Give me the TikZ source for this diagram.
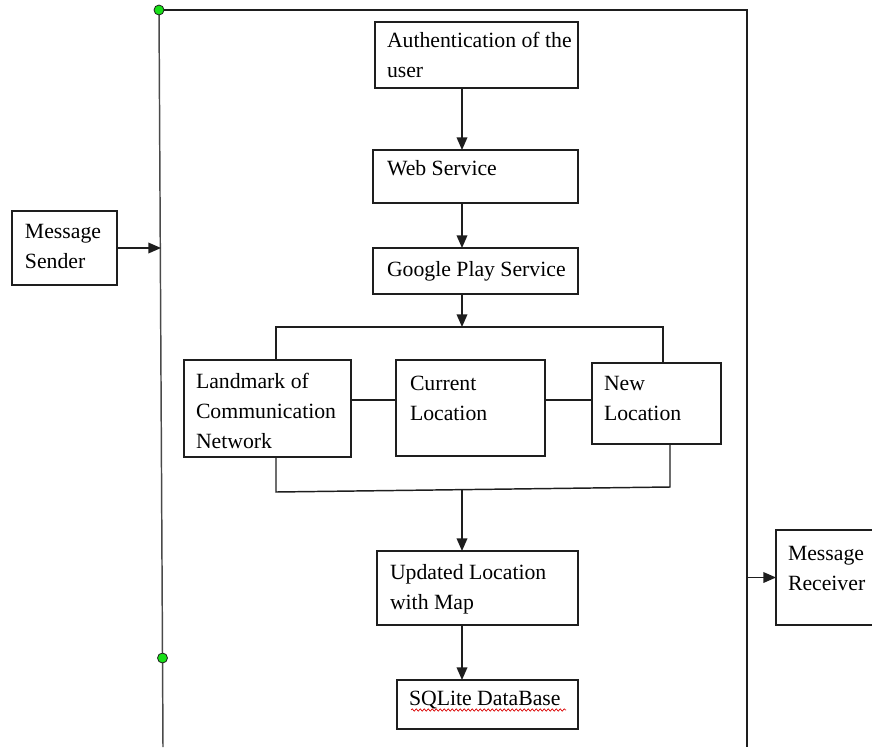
\documentclass[tikz,border=0pt]{standalone}
\usepackage{fontspec}
\setmainfont{Liberation Serif}
\usetikzlibrary{arrows.meta,decorations.pathmorphing}
\definecolor{ink}{HTML}{1E1E1E}
\definecolor{rail}{HTML}{4A4A4A}
\definecolor{dotgreen}{HTML}{18E018}
\tikzset{
  box/.style={draw=ink, line width=1.1pt, rectangle, inner sep=0pt, outer sep=0pt},
  lbl/.style={inner sep=0pt, outer sep=0pt, align=left, text=black,
              font=\fontsize{16.3}{22.5}\selectfont},
  wire/.style={draw=ink, line width=1.1pt},
  arr/.style={wire, -{Triangle[length=9.5pt,width=8pt]}},
  railline/.style={draw=rail, line width=1.1pt},
  dot/.style={circle, draw=ink, fill=dotgreen, line width=0.6pt,
              minimum size=7.5pt, inner sep=0pt},
  squiggle/.style={draw=red!85!black, line width=0.5pt,
                   decorate, decoration={snake, amplitude=0.9pt, segment length=3pt}}
}
% box from its top-left and bottom-right corners, in pixel units
\newcommand\flowbox[5]{%
  \node[box, minimum width={(#4-#2)*0.75pt}, minimum height={(#5-#3)*0.75pt}]
    (#1) at ({(#2+#4)/2},{(#3+#5)/2}) {};}
\begin{document}
\begin{tikzpicture}[x=0.75pt,y=-0.75pt]
\useasboundingbox (0,0) rectangle (872,747);

% outer frame
\coordinate (frameTL) at (159,10);
\coordinate (frameBL) at (163,747);
\coordinate (frameTR) at (747,10);
\coordinate (frameBR) at (747,747);
\draw[railline] (frameTL) -- (frameBL);
\draw[wire] (frameTL) -- (frameTR) -- (frameBR);
\node[dot] (dotTop) at (frameTL) {};
\node[dot] (dotLow) at (162.5,658) {};

% boxes
\flowbox{send}{12}{211}{117}{285}
\flowbox{auth}{375}{22}{578}{88}
\flowbox{web}{373}{150}{578}{203}
\flowbox{gps}{373}{248}{578}{294}
\flowbox{land}{184}{360}{351}{457}
\flowbox{cur}{396}{360}{545}{456}
\flowbox{newloc}{592}{363}{721}{444}
\flowbox{upd}{377}{551}{578}{625}
\flowbox{db}{397}{680}{578}{729}
\flowbox{recv}{776}{530}{890}{625}

% labels (base anchor = baseline of the last line)
\node[lbl, anchor=base west] (sendT) at (25,268) {Message\\Sender};
\node[lbl, anchor=base west] (authT) at (387,77) {Authentication of the\\user};
\node[lbl, anchor=base west] (webT) at (387,175) {Web Service};
\node[lbl, anchor=base west] (gpsT) at (387,276) {Google Play Service};
\node[lbl, anchor=base west] (landT) at (196,448) {Landmark of\\Communication\\Network};
\node[lbl, anchor=base west] (curT) at (410,420) {Current\\Location};
\node[lbl, anchor=base west] (newT) at (604,420) {New\\Location};
\node[lbl, anchor=base west] (updT) at (390,609) {Updated Location\\with Map};
\node[lbl, anchor=base west] (dbT) at (409,705) {SQLite DataBase};
\node[lbl, anchor=base west] (recvT) at (788,590) {Message\\Receiver};
\draw[squiggle] (411,710) -- (566,710);

% main flow
\coordinate (spine) at (462,0);
\draw[arr] (auth.south -| spine) -- (web.north -| spine);
\draw[arr] (web.south -| spine) -- (gps.north -| spine);
\coordinate (split) at (462,327);
\coordinate (splitL) at (276,327);
\coordinate (splitR) at (663,327);
\draw[arr] (gps.south -| spine) -- (split);
\draw[wire] (land.north -| splitL) -- (splitL) -- (splitR) -- (newloc.north -| splitR);

% links between the three location boxes
\coordinate (midrow) at (0,400);
\draw[wire] (land.east |- midrow) -- (cur.west |- midrow);
\draw[wire] (cur.east |- midrow) -- (newloc.west |- midrow);

% merge below the location boxes
\coordinate (joinL) at (276,492);
\coordinate (joinR) at (670,487);
\coordinate (merge) at (462,489.6);
\draw[wire] (land.south -| joinL) -- (joinL) -- (joinR) -- (newloc.south -| joinR);
\draw[arr] (merge) -- (upd.north -| spine);
\draw[arr] (upd.south -| spine) -- (db.north -| spine);

% sender and receiver
\coordinate (sendIn) at (161,248);
\draw[arr] (send.east) -- (sendIn);
\coordinate (recvOut) at (747,577.5);
\draw[arr] (recvOut) -- (recv.west);
\end{tikzpicture}
\end{document}
